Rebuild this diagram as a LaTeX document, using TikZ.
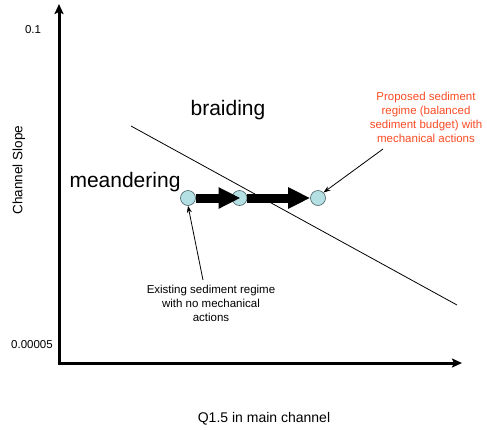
\documentclass[tikz,border=0pt]{standalone}
\usepackage{fontspec}
\setmainfont{Liberation Sans}
\usetikzlibrary{arrows.meta}
\definecolor{reglab}{RGB}{250,75,35}
\definecolor{dotfill}{RGB}{180,224,228}
\definecolor{dotline}{RGB}{70,95,100}
\tikzset{
  ax/.style={line width=3pt,-{Stealth[length=10pt,width=9pt,inset=2pt]}},
  small/.style={font=\fontsize{11.5}{14}\selectfont,inner sep=0pt,align=center},
  big/.style={font=\fontsize{21}{24}\selectfont,inner sep=0pt,anchor=base},
  dot/.style={circle,draw=dotline,fill=dotfill,line width=0.6pt,minimum size=15pt,inner sep=0pt},
  fat/.style={line width=9pt,-{Triangle[length=22pt,width=20pt]}},
  lead/.style={line width=0.8pt,-{Stealth[length=7pt,width=5pt]}}
}
\begin{document}
\begin{tikzpicture}[x=1pt,y=-1pt]
\useasboundingbox (0,0) rectangle (487,429);
\coordinate (o) at (59,363);
\coordinate (ytop) at (59,4);
\coordinate (xend) at (462,363);
\draw[ax] ([yshift=-1.5pt]o) -- (ytop);
\draw[ax] ([xshift=-1.5pt]o) -- (xend);
\node[small,anchor=base] (t1) at (33,33) {0.1};
\node[small,anchor=base] (t2) at (32,348) {0.00005};
\node[font=\fontsize{13.5}{16}\selectfont,inner sep=0pt,rotate=90] (yl) at (19,170) {Channel Slope};
\node[font=\fontsize{14}{16}\selectfont,inner sep=0pt,anchor=base] (xl) at (264,422) {Q1.5 in main channel};
\coordinate (d1) at (131,126);
\coordinate (d2) at (457,305);
\draw[line width=0.8pt] (d1) -- (d2);
\node[big] (br) at (228,115) {braiding};
\node[big] (me) at (125,187) {meandering};
\node[dot] (c1) at (188,198) {};
\node[dot] (c2) at (239.5,198) {};
\node[dot] (c3) at (318,198) {};
\draw[fat] (c1.east) -- ([xshift=1pt]c2.center);
\draw[fat] (c2.east) -- (c3.west);
\node[small,text=reglab] (prop) at (426,117) {Proposed sediment\\regime (balanced\\sediment budget) with\\mechanical actions};
\node[small] (exist) at (211,303.5) {Existing sediment regime\\with no mechanical\\actions};
\coordinate (p1) at (383,149);
\coordinate (e1) at (203,280);
\draw[lead] (p1) -- (c3.north east);
\draw[lead] (e1) -- (c1.south);
\end{tikzpicture}
\end{document}
